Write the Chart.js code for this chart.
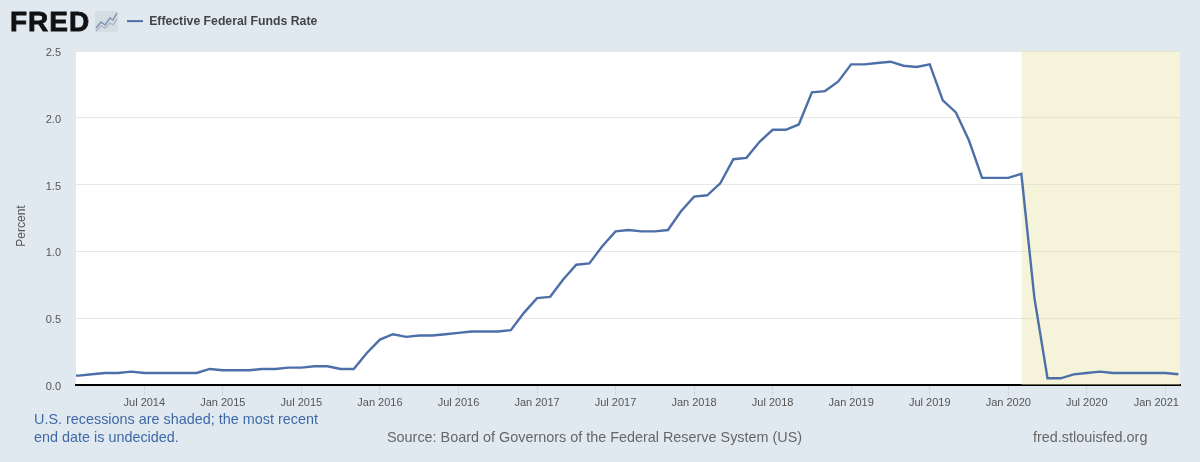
<!DOCTYPE html>
<html><head><meta charset="utf-8">
<script src="https://cdn.jsdelivr.net/npm/chart.js@4"></script>
<style>
html,body{margin:0;padding:0;background:#e1e9f0;width:1200px;height:462px;overflow:hidden;font-family:"Liberation Sans",Arial,sans-serif}
#wrap{position:relative;width:1200px;height:462px}
canvas{position:absolute;left:0;top:0}
.t{position:absolute;white-space:nowrap;font-size:14.4px;line-height:18px;color:#666}
#logo{position:absolute;left:10px;top:6px;font-size:28px;line-height:32px;font-weight:bold;color:#111;letter-spacing:1px;-webkit-text-stroke:.8px #111}
#icon{position:absolute;left:95px;top:11px}
</style></head><body>
<div id="wrap">
<canvas id="c" width="1200" height="462"></canvas>
<div id="logo">FRED</div>
<svg id="icon" width="23" height="21" viewBox="0 0 23 21"><rect width="23" height="21" fill="#d5dde4"/><path d="M1 17L6 11L10 14L15 7L18 9L22 2" fill="none" stroke="#7d93b5" stroke-width="1.5"/><path d="M1 20L6 15L10 17L15 12L18 14L22 8" fill="none" stroke="#a9b2bb" stroke-width="1.2"/></svg>
<div class="t" style="left:34px;top:410px;color:#3f69a6">U.S. recessions are shaded; the most recent<br>end date is undecided.</div>
<div class="t" style="left:387px;top:428px">Source: Board of Governors of the Federal Reserve System (US)</div>
<div class="t" style="left:1033px;top:428px">fred.stlouisfed.org</div>
</div>
<script>
const months = [
"Jan 2014","Feb 2014","Mar 2014","Apr 2014","May 2014","Jun 2014","Jul 2014","Aug 2014","Sep 2014","Oct 2014","Nov 2014","Dec 2014",
"Jan 2015","Feb 2015","Mar 2015","Apr 2015","May 2015","Jun 2015","Jul 2015","Aug 2015","Sep 2015","Oct 2015","Nov 2015","Dec 2015",
"Jan 2016","Feb 2016","Mar 2016","Apr 2016","May 2016","Jun 2016","Jul 2016","Aug 2016","Sep 2016","Oct 2016","Nov 2016","Dec 2016",
"Jan 2017","Feb 2017","Mar 2017","Apr 2017","May 2017","Jun 2017","Jul 2017","Aug 2017","Sep 2017","Oct 2017","Nov 2017","Dec 2017",
"Jan 2018","Feb 2018","Mar 2018","Apr 2018","May 2018","Jun 2018","Jul 2018","Aug 2018","Sep 2018","Oct 2018","Nov 2018","Dec 2018",
"Jan 2019","Feb 2019","Mar 2019","Apr 2019","May 2019","Jun 2019","Jul 2019","Aug 2019","Sep 2019","Oct 2019","Nov 2019","Dec 2019",
"Jan 2020","Feb 2020","Mar 2020","Apr 2020","May 2020","Jun 2020","Jul 2020","Aug 2020","Sep 2020","Oct 2020","Nov 2020","Dec 2020",
"Jan 2021","Feb 2021"];
const rates = [
.07,.07,.08,.09,.09,.10,.09,.09,.09,.09,.09,.12,
.11,.11,.11,.12,.12,.13,.13,.14,.14,.12,.12,.24,
.34,.38,.36,.37,.37,.38,.39,.40,.40,.40,.41,.54,
.65,.66,.79,.90,.91,1.04,1.15,1.16,1.15,1.15,1.16,1.30,
1.41,1.42,1.51,1.69,1.70,1.82,1.91,1.91,1.95,2.19,2.20,2.27,
2.40,2.40,2.41,2.42,2.39,2.38,2.40,2.13,2.04,1.83,1.55,1.55,
1.55,1.58,.65,.05,.05,.08,.09,.10,.09,.09,.09,.09,
.09,.08];
const xTickLabels = ["Jul 2014","Jan 2015","Jul 2015","Jan 2016","Jul 2016","Jan 2017","Jul 2017","Jan 2018","Jul 2018","Jan 2019","Jul 2019","Jan 2020","Jul 2020","Jan 2021"];
const recessionMonths = ["Feb 2020","Mar 2020","Apr 2020","May 2020","Jun 2020","Jul 2020","Aug 2020","Sep 2020","Oct 2020","Nov 2020","Dec 2020","Jan 2021","Feb 2021"];
const recessionEndX = 85.12;
const yMax = 2.5;

const ratePoints = months.map((m,i)=>({x:i,y:rates[i]}));
const recessionPoints = recessionMonths.map(m=>({x:months.indexOf(m),y:yMax}));
recessionPoints.push({x:recessionEndX,y:yMax});

const fredLook = {
  id:'fredLook',
  afterLayout(chart){
    const l = chart.legend;
    l.left = 117; l.right = 520; l.top = 5; l.bottom = 25;
  },
  beforeDraw(chart){
    const {ctx,chartArea:a} = chart;
    ctx.save(); ctx.fillStyle='#fff'; ctx.fillRect(a.left,a.top,a.right-a.left,a.bottom-a.top); ctx.restore();
    const y = chart.scales.y, x = chart.scales.x;
    if(!y._shiftedTitle){
      y._shiftedTitle = true;
      const orig = y.drawTitle;
      y.drawTitle = function(){ ctx.save(); ctx.translate(0,8); orig.call(this); ctx.restore(); };
    }
    const items = x.getLabelItems(a);
    const last = items[items.length-1];
    if(last && !last._moved){ last._moved = true; last.options.translation[0] -= 9; }
  }
};

new Chart(document.getElementById('c'),{
  type:'line',
  data:{datasets:[
    {label:'Effective Federal Funds Rate',data:ratePoints,borderColor:'#4d6fa8',backgroundColor:'#4d6fa8',borderWidth:2.4,pointRadius:0,tension:0,fill:false,order:1},
    {label:'Recession',data:recessionPoints,borderWidth:0,borderColor:'rgba(0,0,0,0)',backgroundColor:'rgba(230,228,170,0.42)',pointRadius:0,tension:0,fill:'origin',order:2}
  ]},
  options:{
    responsive:false,animation:false,devicePixelRatio:1,
    layout:{padding:{top:51,right:20,bottom:0,left:0}},
    plugins:{
      tooltip:{enabled:false},
      legend:{display:true,position:'chartArea',align:'start',
        labels:{font:{family:'"Liberation Sans",Arial,sans-serif',size:12.25,weight:'bold'},color:'#444',boxWidth:16,boxHeight:2,padding:10,
          filter:i=>i.text!=='Recession',
          generateLabels:c=>Chart.defaults.plugins.legend.labels.generateLabels(c).map(i=>({...i,lineWidth:0,strokeStyle:'rgba(0,0,0,0)'}))}}
    },
    scales:{
      x:{type:'linear',min:0.782,max:recessionEndX,
        afterBuildTicks:s=>{s.ticks=xTickLabels.map(l=>({value:months.indexOf(l)}));},
        afterFit:s=>{s.height=77;},
        border:{color:'#000',width:2},
        grid:{drawOnChartArea:false,drawTicks:true,tickLength:10,tickColor:'#c4c8cc',tickBorderDash:[1,1],tickWidth:1},
        ticks:{autoSkip:false,maxRotation:0,minRotation:0,padding:1,color:'#555',font:{family:'"Liberation Sans",Arial,sans-serif',size:11},
          callback:v=>months[v]}
      },
      y:{min:0,max:yMax,
        afterFit:s=>{s.width=76;},
        title:{display:true,text:'Percent',color:'#555',font:{family:'"Liberation Sans",Arial,sans-serif',size:12},padding:{top:14,bottom:0}},
        border:{display:false},
        grid:{color:'#e6e6e6',lineWidth:1,drawTicks:false},
        ticks:{stepSize:.5,padding:15,labelOffset:2,color:'#555',font:{family:'"Liberation Sans",Arial,sans-serif',size:11},callback:v=>v.toFixed(1)}
      }
    }
  },
  plugins:[fredLook]
});
</script>
</body></html>
